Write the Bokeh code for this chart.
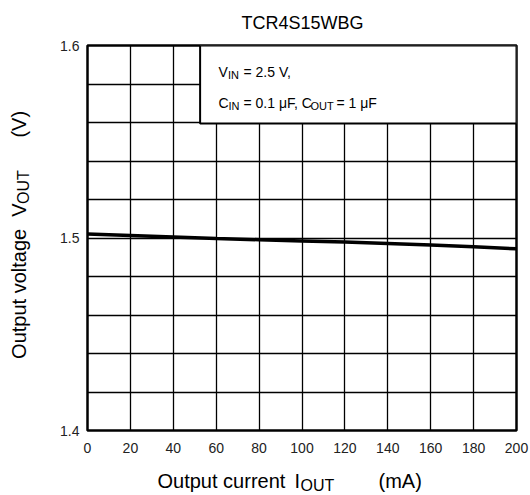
import math
from bokeh.plotting import figure
from bokeh.models import Label, FixedTicker, Range1d
from bokeh.layouts import column, row
from bokeh.core.properties import value
from bokeh.embed import file_html
from bokeh.resources import INLINE

# ---- data ----
title_text = "TCR4S15WBG"
current_ma = [0, 20, 40, 60, 80, 100, 120, 140, 160, 180, 200]
vout_v = [1.5021, 1.5013, 1.5005, 1.4997, 1.4991, 1.4985, 1.4979, 1.4971, 1.4963, 1.4954, 1.4944]
x_ticks = [0, 20, 40, 60, 80, 100, 120, 140, 160, 180, 200]
y_ticks = [1.4, 1.5, 1.6]
y_grid = [1.40, 1.42, 1.44, 1.46, 1.48, 1.50, 1.52, 1.54, 1.56, 1.58, 1.60]

FONT = "Liberation Sans"
W, H = 530, 495
TOP_H = 37          # title strip
BOT_H = 40          # x-label strip
LEFT_W = 40         # y-label strip
MAIN_H = H - TOP_H - BOT_H
MAIN_W = W - LEFT_W

# ---- main chart ----
p = figure(width=MAIN_W, height=MAIN_H, output_backend="svg", toolbar_location=None,
           x_range=Range1d(0, 200), y_range=Range1d(1.4, 1.6),
           min_border_left=87 - LEFT_W, min_border_right=W - 516,
           min_border_top=45 - TOP_H, min_border_bottom=(TOP_H + MAIN_H) - 431)
p.background_fill_color = "white"
p.border_fill_color = "white"
p.outline_line_color = "black"
p.outline_line_width = 2.5

for ax in (p.xaxis, p.yaxis):
    ax.axis_line_color = None
    ax.major_tick_line_color = None
    ax.minor_tick_line_color = None
    ax.major_label_text_font = FONT
    ax.major_label_text_font_size = "14px"
    ax.major_label_text_color = "#222222"
p.xaxis.ticker = FixedTicker(ticks=x_ticks)
p.yaxis.ticker = FixedTicker(ticks=y_ticks)
p.xaxis.major_label_standoff = 6
p.yaxis.major_label_standoff = 2

p.xgrid.ticker = FixedTicker(ticks=x_ticks)
p.ygrid.ticker = FixedTicker(ticks=y_grid)
for g in (p.xgrid, p.ygrid):
    g.grid_line_color = "black"
    g.grid_line_width = 1.3
    g.grid_line_alpha = 1.0

# condition box
p.quad(left=52.5, right=200, bottom=1.5595, top=1.6, fill_color="white",
       line_color="black", line_width=2)

p.line(current_ma, vout_v, line_color="black", line_width=3.5)

FL, FB = 87, 431   # frame left / bottom on the page
def inner(text, px, py, size):
    p.add_layout(Label(x=px - FL, y=FB - py, x_units="screen", y_units="screen",
                       text=text, text_font=FONT, text_font_size=size,
                       text_color="black", text_baseline="middle"))

inner("V", 218, 72, "14px")
inner("IN", 227.5, 75, "11px")
inner("= 2.5 V,", 243, 72, "14px")
inner("C", 218, 103, "14px")
inner("IN", 228, 106, "11px")
inner("= 0.1 \u03bcF, C", 243, 103, "14px")
inner("OUT", 310, 106, "11px")
inner("= 1 \u03bcF", 336, 103, "14px")


# ---- text strips (page-pixel coordinates) ----
def strip(w, h):
    f = figure(width=w, height=h, output_backend="svg", toolbar_location=None,
               x_range=Range1d(0, w), y_range=Range1d(0, h),
               x_axis_type=None, y_axis_type=None, min_border=0)
    f.outline_line_color = None
    f.grid.visible = False
    f.background_fill_color = "white"
    f.border_fill_color = "white"
    return f

def put(f, ox, oy, h, text, px, py, size, angle=0.0, align="left"):
    f.text(x=[px - ox], y=[h - (py - oy)], text=[text], text_font=value(FONT),
           text_font_size=value(size), text_color="black", angle=angle,
           text_align=align, text_baseline="middle")

top = strip(W, TOP_H)
put(top, 0, 0, TOP_H, title_text, 302, 22, "18px", align="center")

bot = strip(W, BOT_H)
oy = TOP_H + MAIN_H
put(bot, 0, oy, BOT_H, "Output current", 157, 480, "20px")
put(bot, 0, oy, BOT_H, "I", 294, 480, "20px")
put(bot, 0, oy, BOT_H, "OUT", 300, 485, "16px")
put(bot, 0, oy, BOT_H, "(mA)", 378, 480, "20px")

left = strip(LEFT_W, MAIN_H)
ang = math.pi / 2
put(left, 0, TOP_H, MAIN_H, "Output voltage", 18, 236, "20px", angle=ang, align="right")
put(left, 0, TOP_H, MAIN_H, "V", 18, 223, "20px", angle=ang)
put(left, 0, TOP_H, MAIN_H, "OUT", 23, 209, "16px", angle=ang)
put(left, 0, TOP_H, MAIN_H, "(V)", 18, 137, "20px", angle=ang)

layout = column(top, row(left, p, spacing=0), bot, spacing=0)
open("out.html", "w").write(file_html(layout, INLINE))
